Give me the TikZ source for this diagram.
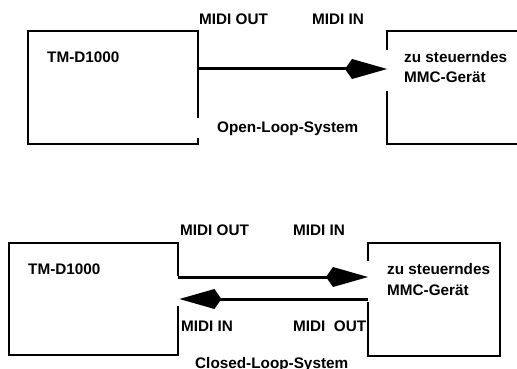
\documentclass[tikz,border=0pt]{standalone}
\usepackage{fontspec}
\setmainfont{Liberation Sans}
\usetikzlibrary{arrows.meta}
\begin{document}
\begin{tikzpicture}[x=1pt, y=-1pt,
  lbl/.style = {anchor = base west, inner sep = 0pt, font = \bfseries\fontsize{15.3}{20}\selectfont},
  dev/.style = {anchor = north west, inner sep = 0pt, draw = none},
  outline/.style = {line width = 2pt, line join = miter},
  link/.style = {line width = 3pt, -{Kite[length = 42pt, width = 20pt, inset = 7pt]}}]
\clip (0,0) rectangle (517,369);
\node[dev, minimum width = 170pt, minimum height = 113pt] (tmOpen) at (28,31) {};
\node[dev, minimum width = 150pt, minimum height = 113pt] (mmcOpen) at (387,31) {};
\node[dev, minimum width = 169pt, minimum height = 112pt] (tmClosed) at (9,243) {};
\node[dev, minimum width = 132pt, minimum height = 113pt] (mmcClosed) at (368,243) {};
\draw [outline] ([yshift = 26pt]tmOpen.south east) -- (tmOpen.north east) -- (tmOpen.north west) -- (tmOpen.south west) -- (tmOpen.south east) -- ([yshift = 6pt]tmOpen.south east);
\draw [outline] ([yshift = -19pt]mmcOpen.north west) -- (mmcOpen.north west) -- (mmcOpen.north east) -- (mmcOpen.south east) -- (mmcOpen.south west) -- ([yshift = 53pt]mmcOpen.south west);
\draw [outline] ([yshift = -33pt]tmClosed.north east) -- (tmClosed.north east) -- (tmClosed.north west) -- (tmClosed.south west) -- (tmClosed.south east) -- ([yshift = 49pt]tmClosed.south east);
\draw [outline] ([yshift = -18pt]mmcClosed.north west) -- (mmcClosed.north west) -- (mmcClosed.north east) -- (mmcClosed.south east) -- (mmcClosed.south west) -- ([yshift = 54pt]mmcClosed.south west);
\draw [link] ([yshift = -38pt]tmOpen.north east) -- ([yshift = -38pt]mmcOpen.north west);
\draw [link] ([yshift = -34pt]tmClosed.north east) -- ([yshift = -34pt]mmcClosed.north west);
\draw [link] ([yshift = -56pt]mmcClosed.north west) -- ([xshift = 1pt, yshift = -56pt]tmClosed.north east);
\node[lbl] (outOpen) at (199,25) {MIDI OUT};
\node[lbl] (inOpen) at (312,25) {MIDI IN};
\node[lbl] (nameOpen) at (47,63) {TM-D1000};
\node[lbl] (zuOpen) at (404,63) {zu steuerndes};
\node[lbl] (geraetOpen) at ([yshift = -20pt]zuOpen.base west) {MMC-Gerät};
\node[lbl] (titleOpen) at (217,132) {Open-Loop-System};
\node[lbl] (outClosed) at (180,235) {MIDI OUT};
\node[lbl] (inClosed) at (293,235) {MIDI IN};
\node[lbl] (nameClosed) at (28,274) {TM-D1000};
\node[lbl] (zuClosed) at (387,274) {zu steuerndes};
\node[lbl] (geraetClosed) at ([yshift = -21pt]zuClosed.base west) {MMC-Gerät};
\node[lbl] (backIn) at (181,331) {MIDI IN};
\node[lbl] (backOut) at (293,331) {MIDI\ \ OUT};
\node[lbl] (titleClosed) at (195,368) {Closed-Loop-System};
\end{tikzpicture}
\end{document}
